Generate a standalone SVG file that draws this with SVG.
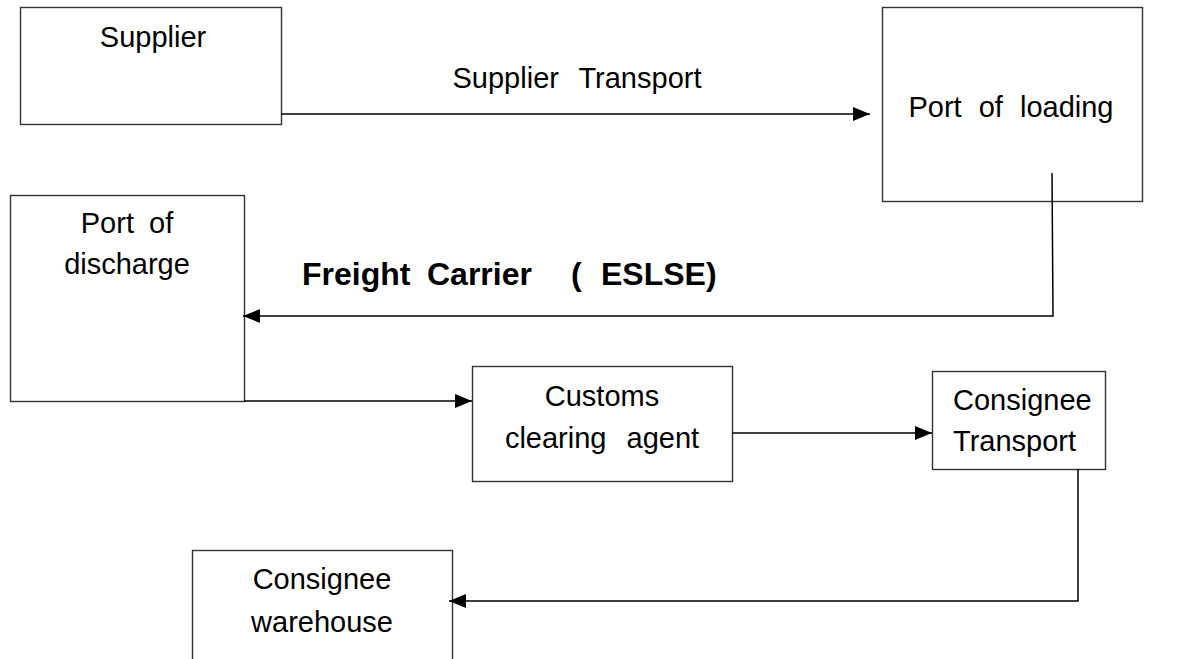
<svg xmlns="http://www.w3.org/2000/svg" width="1185" height="659" viewBox="0 0 1185 659">
  <defs>
    <marker id="arrow" markerUnits="userSpaceOnUse" markerWidth="18" markerHeight="14" refX="17" refY="7" orient="auto">
      <path d="M0,0 L17,7 L0,14 Z" fill="#000"/>
    </marker>
    <style>
      .box { fill: #fff; stroke: #333; stroke-width: 1.4; }
      .lbl { font-family: "Liberation Sans", Arial, sans-serif; font-size: 29px; fill: #000; }
      .mid { text-anchor: middle; }
      .bold { font-weight: bold; font-size: 32px; }
      .conn { fill: none; stroke: #000; stroke-width: 1.5; }
    </style>
  </defs>
  <rect width="1185" height="659" fill="#fff"/>

  <g id="supplier">
    <rect class="box" x="20.5" y="7.5" width="261" height="117"/>
    <text class="lbl mid" x="153" y="47">Supplier</text>
  </g>

  <g id="port-of-loading">
    <rect class="box" x="882.5" y="7.5" width="260" height="194"/>
    <text class="lbl mid" x="1011" y="117" word-spacing="9">Port of loading</text>
  </g>

  <g id="port-of-discharge">
    <rect class="box" x="10.5" y="195.5" width="234" height="206"/>
    <text class="lbl mid" x="127" y="233" word-spacing="7">Port of</text>
    <text class="lbl mid" x="127" y="274">discharge</text>
  </g>

  <g id="customs-clearing-agent">
    <rect class="box" x="472.5" y="366.5" width="260" height="115"/>
    <text class="lbl mid" x="602" y="406">Customs</text>
    <text class="lbl mid" x="602" y="448" word-spacing="12">clearing agent</text>
  </g>

  <g id="consignee-transport">
    <rect class="box" x="932.5" y="371.5" width="173" height="98"/>
    <text class="lbl" x="953" y="410">Consignee</text>
    <text class="lbl" x="953" y="451">Transport</text>
  </g>

  <g id="consignee-warehouse">
    <rect class="box" x="192.5" y="550.5" width="260" height="130"/>
    <text class="lbl mid" x="322" y="589">Consignee</text>
    <text class="lbl mid" x="322" y="632">warehouse</text>
  </g>

  <g id="connectors">
    <line class="conn" x1="281" y1="114" x2="870" y2="114" marker-end="url(#arrow)"/>
    <text class="lbl mid" x="577" y="88" word-spacing="12">Supplier Transport</text>

    <polyline class="conn" points="1052,173 1053,316 243,316" marker-end="url(#arrow)"/>
    <text class="lbl bold" y="285"><tspan x="302">Freight</tspan><tspan x="427">Carrier</tspan><tspan x="571">(</tspan><tspan x="601">ESLSE)</tspan></text>

    <line class="conn" x1="244" y1="401" x2="472" y2="401" marker-end="url(#arrow)"/>
    <line class="conn" x1="732" y1="433" x2="932" y2="433" marker-end="url(#arrow)"/>
    <polyline class="conn" points="1078,469 1078,601 449,601" marker-end="url(#arrow)"/>
  </g>
</svg>
